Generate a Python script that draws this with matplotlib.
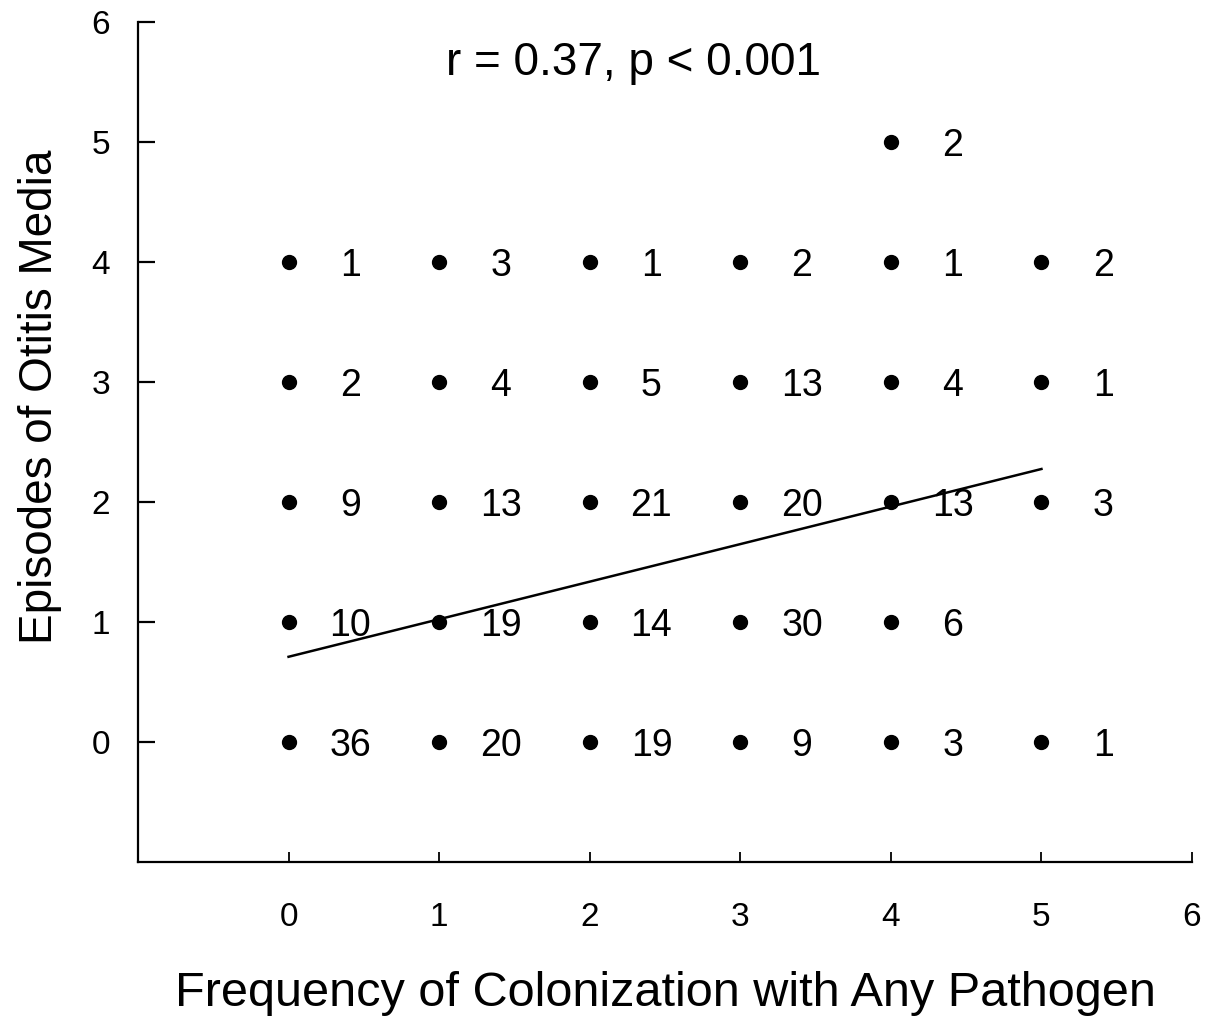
import matplotlib
matplotlib.use("Agg")
import matplotlib.pyplot as plt
import numpy as np

plt.rcParams['font.family'] = ['Liberation Sans', 'DejaVu Sans']

# Data: colonization frequency (x), otitis episodes (y), number of children (n)
colonization = [0, 0, 0, 0, 0,
                1, 1, 1, 1, 1,
                2, 2, 2, 2, 2,
                3, 3, 3, 3, 3,
                4, 4, 4, 4, 4, 4,
                5, 5, 5, 5]
episodes = [0, 1, 2, 3, 4,
            0, 1, 2, 3, 4,
            0, 1, 2, 3, 4,
            0, 1, 2, 3, 4,
            0, 1, 2, 3, 4, 5,
            0, 2, 3, 4]
counts = [36, 10, 9, 2, 1,
          20, 19, 13, 4, 3,
          19, 14, 21, 5, 1,
          9, 30, 20, 13, 2,
          3, 6, 13, 4, 1, 2,
          1, 3, 1, 2]

fit_x = [0, 5]
fit_y = [0.71, 2.275]

x_ticks = [0, 1, 2, 3, 4, 5, 6]
y_ticks = [0, 1, 2, 3, 4, 5, 6]
annotation = "r = 0.37, p < 0.001"

fig = plt.figure(figsize=(12.07, 10.23), dpi=100)
ax = fig.add_axes([0.1143, 0.1574, 0.8733, 0.8211])

ax.plot(colonization, episodes, 'o', color='black', markersize=10, zorder=3)
for x, y, n in zip(colonization, episodes, counts):
    ax.text(x + 0.41, y - 0.03, str(n), ha='center', va='center', fontsize=27, color='black')

ax.plot(fit_x, fit_y, color='black', linewidth=1.8)

ax.text(2.29, 5.66, annotation, ha='center', va='center', fontsize=33)

ax.set_xlim(-1, 6)
ax.set_ylim(-1, 6)
ax.set_xticks(x_ticks)
ax.set_yticks(y_ticks)

for s in ['top', 'right']:
    ax.spines[s].set_visible(False)
for s in ['left', 'bottom']:
    ax.spines[s].set_linewidth(1.6)

ax.tick_params(axis='y', direction='in', length=12, width=1.6, pad=20)
ax.tick_params(axis='x', direction='in', length=7, width=1.3, pad=29)
ax.set_xticklabels([str(t) for t in x_ticks], fontsize=24)
ax.set_yticklabels([str(t) for t in y_ticks], fontsize=24)

ax.set_xlabel("Frequency of Colonization with Any Pathogen", fontsize=35)
ax.set_ylabel("Episodes of Otitis Media", fontsize=33)
ax.xaxis.set_label_coords(0.5, -0.156)
ax.xaxis.label.set_va('center')
ax.yaxis.set_label_coords(-0.093, 0.554)
ax.yaxis.label.set_va('center')

fig.savefig("out.png", dpi=100)
